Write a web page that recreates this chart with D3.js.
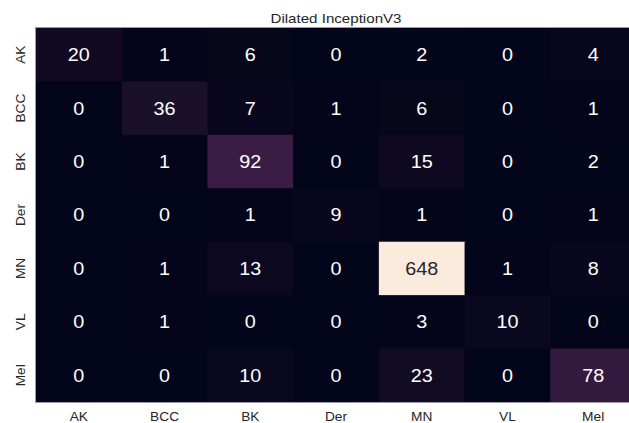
<!DOCTYPE html>
<html><head><meta charset="utf-8">
<script src="https://cdn.jsdelivr.net/npm/d3@7"></script>
<style>body{margin:0;background:#fff;overflow:hidden}svg{display:block}</style>
</head><body>
<svg id="chart" width="629" height="423"></svg>
<script>
const title = "Dilated InceptionV3";
const classes = ["AK","BCC","BK","Der","MN","VL","Mel"];
const matrix = [
  [20, 1, 6, 0, 2, 0, 4],
  [0, 36, 7, 1, 6, 0, 1],
  [0, 1, 92, 0, 15, 0, 2],
  [0, 0, 1, 9, 1, 0, 1],
  [0, 1, 13, 0, 648, 1, 8],
  [0, 1, 0, 0, 3, 10, 0],
  [0, 0, 10, 0, 23, 0, 78]
];
// rocket-like colormap stops
const rocketPos = [0, 0.03, 0.056, 0.12, 0.142, 0.2, 0.3, 0.4, 0.5, 0.6, 0.7, 0.8, 0.9, 1.0];
const rocketCol = ["#03051a","#110a22","#1b1029","#331a3e","#3a1c44","#4e1d4f","#701f57","#971c5b","#c1194f","#e0303e","#ef5b3c","#f58d65","#f7ba98","#faebdd"];

const FONT = "Liberation Sans, Arial, sans-serif";
const svg = d3.select("#chart");
const mLeft = 36, mTop = 28, plotW = 600, plotH = 374;
const x = d3.scaleBand().domain(classes).range([mLeft, mLeft + plotW]).padding(0);
const y = d3.scaleBand().domain(classes).range([mTop, mTop + plotH]).padding(0);
const vmax = d3.max(matrix.flat());
const color = d3.scaleLinear().domain(rocketPos.map(p => p * vmax)).range(rocketCol).interpolate(d3.interpolateRgb).clamp(true);

const cells = [];
matrix.forEach((row, i) => row.forEach((v, j) => cells.push({r: classes[i], c: classes[j], v})));

svg.append("rect")
  .attr("x", mLeft - 0.5).attr("y", mTop - 0.5)
  .attr("width", plotW + 1).attr("height", plotH + 1)
  .attr("fill", "none").attr("stroke", "#9a9aa8").attr("stroke-width", 1);

svg.append("g").selectAll("rect").data(cells).join("rect")
  .attr("x", d => x(d.c)).attr("y", d => y(d.r))
  .attr("width", d => x.bandwidth() + (d.c === classes[classes.length - 1] ? 0 : 1))
  .attr("height", d => y.bandwidth() + (d.r === classes[classes.length - 1] ? 0 : 1))
  .attr("fill", d => color(d.v));

svg.append("g").selectAll("text").data(cells).join("text")
  .attr("transform", d => `translate(${x(d.c) + x.bandwidth() / 2},${y(d.r) + y.bandwidth() / 2}) scale(1.1,1)`)
  .attr("text-anchor", "middle").attr("dy", "0.36em")
  .attr("font-family", FONT)
  .attr("font-size", 18)
  .attr("fill", d => d.v / vmax > 0.5 ? "#262626" : "#ffffff")
  .text(d => d.v);

// x axis
const xAxis = svg.append("g").attr("transform", `translate(0,${mTop + plotH})`)
  .call(d3.axisBottom(x).tickSize(0).tickPadding(10));
xAxis.select(".domain").remove();
xAxis.selectAll("text").attr("font-family", FONT)
  .attr("font-size", 12.6).attr("fill", "#262626")
  .attr("transform", "scale(1.09,1)");

// y axis
const yAxis = svg.append("g").attr("transform", `translate(${mLeft},0)`)
  .call(d3.axisLeft(y).tickSize(0).tickPadding(0));
yAxis.select(".domain").remove();
yAxis.selectAll("text")
  .attr("font-family", FONT)
  .attr("font-size", 12.6).attr("fill", "#262626")
  .attr("x", null).attr("dy", null)
  .attr("text-anchor", "middle")
  .attr("transform", "translate(-11,0) rotate(-90) scale(1.09,1)");

svg.append("text")
  .attr("transform", `translate(${mLeft + plotW / 2},23) scale(1.2,1)`)
  .attr("text-anchor", "middle")
  .attr("font-family", FONT)
  .attr("font-size", 12.6).attr("fill", "#262626")
  .text(title);
</script>
</body></html>
